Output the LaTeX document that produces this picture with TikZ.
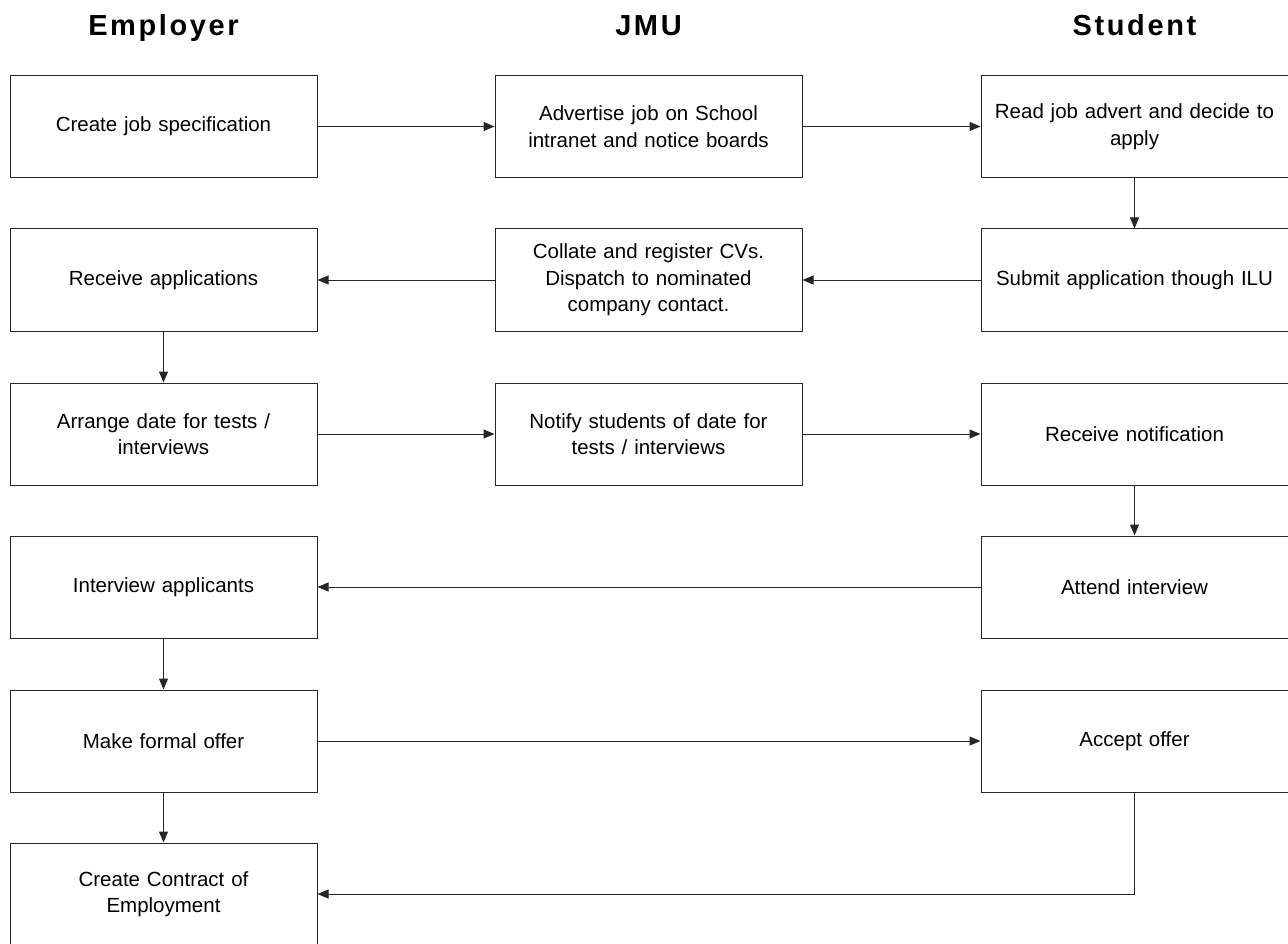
\documentclass[tikz,border=0pt]{standalone}
\usepackage{fontspec}
\setmainfont{Liberation Sans}
\newfontfamily\headfont[LetterSpace=9]{Liberation Sans Bold}
\usetikzlibrary{arrows.meta}
\begin{document}
\begin{tikzpicture}[x=1pt,y=-1pt,
  box/.style={draw=black!85,line width=1pt,minimum width=307pt,minimum height=102pt,
    text width=305pt,align=center,inner sep=0pt,font=\fontsize{20.5}{26.5}\selectfont},
  head/.style={anchor=base,font=\headfont\fontsize{29}{34}\selectfont},
  conn/.style={draw=black!85,line width=1pt,-{Triangle[length=11pt,width=9pt]}}]
\useasboundingbox (0,0) rectangle (1288,944);
\node[head] (h1) at (163.5,35.5) {Employer};
\node[head] (h2) at (648.5,35.5) {JMU};
\node[head] (h3) at (1134.5,35.5) {Student};
% Employer
\node[box] (e1) at (163.5,126.5) {Create job specification};
\node[box] (e2) at (163.5,280) {Receive applications};
\node[box] (e3) at (163.5,434) {Arrange date for tests /\\ interviews};
\node[box] (e4) at (163.5,587) {Interview applicants};
\node[box] (e5) at (163.5,741) {Make formal offer};
\node[box] (e6) at (163.5,894) {Create Contract of\\ Employment};
% JMU
\node[box] (j1) at (648.5,126.5) {Advertise job on School\\ intranet and notice boards};
\node[box] (j2) at (648.5,280) {Collate and register CVs.\\ Dispatch to nominated\\ company contact.};
\node[box] (j3) at (648.5,434) {Notify students of date for\\ tests / interviews};
% Student
\node[box] (s1) at (1134.5,126.5) {Read job advert and decide to\\ apply};
\node[box] (s2) at (1134.5,280) {Submit application though ILU};
\node[box] (s3) at (1134.5,434) {Receive notification};
\node[box] (s4) at (1134.5,587) {Attend interview};
\node[box] (s5) at (1134.5,741) {Accept offer\strut};
% connectors
\draw[conn] (e1) -- (j1);
\draw[conn] (j1) -- (s1);
\draw[conn] (s1) -- (s2);
\draw[conn] (s2) -- (j2);
\draw[conn] (j2) -- (e2);
\draw[conn] (e2) -- (e3);
\draw[conn] (e3) -- (j3);
\draw[conn] (j3) -- (s3);
\draw[conn] (s3) -- (s4);
\draw[conn] (s4) -- (e4);
\draw[conn] (e4) -- (e5);
\draw[conn] (e5) -- (s5);
\draw[conn] (e5) -- (e6);
\draw[conn] (s5.south) |- (e6.east);
\end{tikzpicture}
\end{document}
